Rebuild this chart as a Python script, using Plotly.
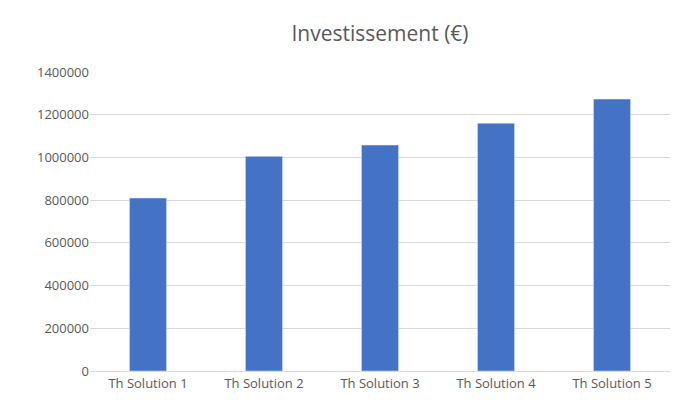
import plotly.graph_objects as go

categories = ["Th Solution 1", "Th Solution 2", "Th Solution 3", "Th Solution 4", "Th Solution 5"]
investissement = [810000, 1005000, 1058000, 1160000, 1273000]
y_ticks = [0, 200000, 400000, 600000, 800000, 1000000, 1200000, 1400000]

fig = go.Figure(go.Bar(x=categories, y=investissement, marker_color="#4472C4", width=0.32))

fig.update_layout(
    width=693, height=416,
    margin=dict(l=82, r=31, t=64, b=53),
    paper_bgcolor="white", plot_bgcolor="white",
    font=dict(family="Open Sans", color="#595959", size=13),
    title=dict(text="Investissement (€)", x=0.5, xref="paper", y=0.955, xanchor="center",
               font=dict(size=21, color="#595959")),
    xaxis=dict(showline=True, linecolor="#D9D9D9", ticks="", tickfont=dict(size=13)),
    yaxis=dict(range=[0, 1400000], tickvals=y_ticks, tickformat="d",
               gridcolor="#D9D9D9", zeroline=False, ticks="", tickfont=dict(size=13)),
    showlegend=False,
)

fig.write_html("out.html")
